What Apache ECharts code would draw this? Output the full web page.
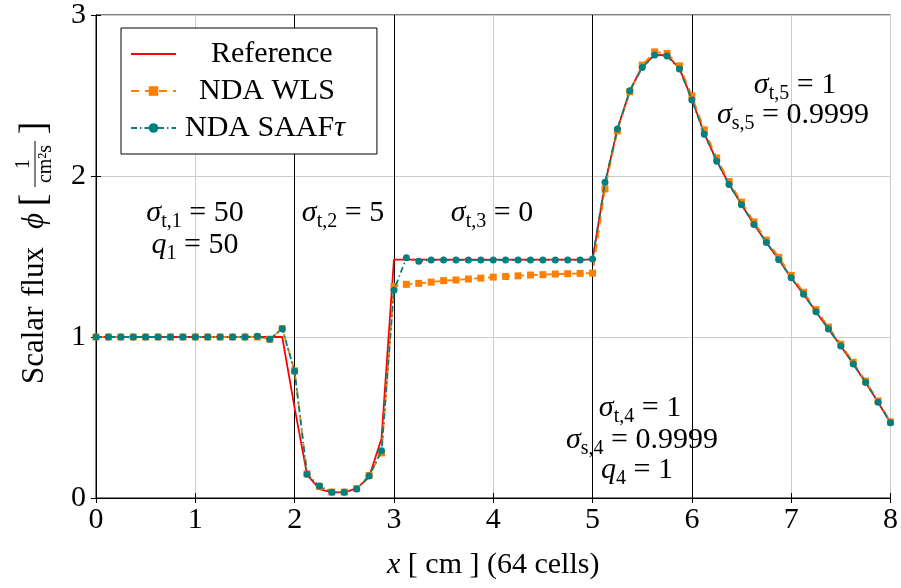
<!DOCTYPE html>
<html>
<head>
<meta charset="utf-8">
<script src="https://cdn.jsdelivr.net/npm/echarts@6/dist/echarts.min.js"></script>
<style>
  html, body { margin: 0; padding: 0; background: #ffffff; }
  #chart { width: 901px; height: 588px; }
</style>
</head>
<body>
<div id="chart"></div>
<script>
// Cell positions of the 64-cell mesh (cm)
const cellX = [
  0.000, 0.125, 0.250, 0.375, 0.500, 0.625, 0.750, 0.875,
  1.000, 1.125, 1.250, 1.375, 1.500, 1.625, 1.750, 1.875,
  2.000, 2.125, 2.250, 2.375, 2.500, 2.625, 2.750, 2.875,
  3.000, 3.125, 3.250, 3.375, 3.500, 3.625, 3.750, 3.875,
  4.000, 4.125, 4.250, 4.375, 4.500, 4.625, 4.750, 4.875,
  5.000, 5.125, 5.250, 5.375, 5.500, 5.625, 5.750, 5.875,
  6.000, 6.125, 6.250, 6.375, 6.500, 6.625, 6.750, 6.875,
  7.000, 7.125, 7.250, 7.375, 7.500, 7.625, 7.750, 7.875,
  8.000
];

// Scalar flux, reference transport solution
const referenceFlux = [
  1.000, 1.000, 1.000, 1.000, 1.000, 1.000, 1.000, 1.000,
  1.000, 1.000, 1.000, 1.000, 1.000, 1.000, 1.000, 1.000,
  0.560, 0.145, 0.055, 0.035, 0.035, 0.060, 0.130, 0.370,
  1.480, 1.480, 1.480, 1.480, 1.480, 1.480, 1.480, 1.480,
  1.480, 1.480, 1.480, 1.480, 1.480, 1.480, 1.480, 1.480,
  1.480, 1.950, 2.290, 2.530, 2.680, 2.752, 2.750, 2.668,
  2.478, 2.265, 2.095, 1.950, 1.823, 1.700, 1.588, 1.481,
  1.368, 1.265, 1.157, 1.050, 0.944, 0.833, 0.717, 0.595,
  0.467
];

// Scalar flux, NDA with weighted least squares
const wlsFlux = [
  1.000, 1.000, 1.000, 1.000, 1.000, 1.000, 1.000, 1.000,
  1.000, 1.000, 1.000, 1.000, 1.000, 1.000, 0.986, 1.052,
  0.790, 0.150, 0.072, 0.037, 0.037, 0.058, 0.140, 0.280,
  1.314, 1.327, 1.333, 1.341, 1.350, 1.354, 1.360, 1.366,
  1.372, 1.376, 1.380, 1.385, 1.387, 1.391, 1.393, 1.395,
  1.397, 1.920, 2.280, 2.523, 2.689, 2.771, 2.761, 2.684,
  2.498, 2.287, 2.112, 1.965, 1.838, 1.715, 1.602, 1.495,
  1.382, 1.278, 1.170, 1.062, 0.955, 0.843, 0.726, 0.603,
  0.473
];

// Scalar flux, NDA with SAAF tau stabilisation
const saafFlux = [
  1.000, 1.000, 1.000, 1.000, 1.000, 1.000, 1.000, 1.000,
  1.000, 1.000, 1.000, 1.000, 1.000, 1.004, 0.986, 1.052,
  0.787, 0.147, 0.074, 0.035, 0.035, 0.056, 0.136, 0.293,
  1.290, 1.492, 1.471, 1.478, 1.478, 1.478, 1.478, 1.478,
  1.478, 1.478, 1.478, 1.478, 1.478, 1.478, 1.478, 1.478,
  1.485, 1.961, 2.292, 2.529, 2.674, 2.751, 2.746, 2.664,
  2.472, 2.260, 2.092, 1.947, 1.821, 1.699, 1.587, 1.480,
  1.368, 1.265, 1.157, 1.050, 0.944, 0.833, 0.717, 0.595,
  0.467
];

// Material region interfaces (cm)
const regionEdges = [2, 3, 5, 6];

const FONT = '"Liberation Serif", "Times New Roman", serif';

function pairs(xs, ys) {
  return xs.map((x, i) => [x, ys[i]]);
}

// Rich-text styles for the region annotations (italic symbol, upright subscript)
const mathRich = {
  m: { fontFamily: FONT, fontSize: 30, fontStyle: 'italic', lineHeight: 38, fill: '#000' },
  s: { fontFamily: FONT, fontSize: 20, lineHeight: 20, verticalAlign: 'bottom', fill: '#000' },
  n: { fontFamily: FONT, fontSize: 30, lineHeight: 38, fill: '#000' }
};

function mathText(text, x, y) {
  return {
    type: 'text',
    silent: true,
    z: 50,
    style: {
      text: text,
      x: x,
      y: y,
      align: 'center',
      verticalAlign: 'middle',
      rich: mathRich,
      fill: '#000'
    }
  };
}

const annotations = [
  mathText('{m|σ}{s|t,1}{n| = 50}', 195, 213),
  mathText('{m|q}{s|1}{n| = 50}', 195, 245),
  mathText('{m|σ}{s|t,2}{n| = 5}', 343, 213),
  mathText('{m|σ}{s|t,3}{n| = 0}', 492, 213),
  mathText('{m|σ}{s|t,4}{n| = 1}', 640, 408),
  mathText('{m|σ}{s|s,4}{n| = 0.9999}', 642, 440),
  mathText('{m|q}{s|4}{n| = 1}', 637, 470),
  mathText('{m|σ}{s|t,5}{n| = 1}', 795, 85),
  mathText('{m|σ}{s|s,5}{n| = 0.9999}', 793, 115)
];

// Rotated y-axis title: Scalar flux ϕ [1 / cm²s]
const yTitle = {
  type: 'group',
  x: 35,
  y: 384,
  rotation: Math.PI / 2,
  silent: true,
  children: [
    { type: 'text', style: { text: 'Scalar', x: 0, y: 0, font: '31px ' + FONT, align: 'left', verticalAlign: 'middle', fill: '#000' } },
    { type: 'text', style: { text: 'flux', x: 87, y: 0, font: '31px ' + FONT, align: 'left', verticalAlign: 'middle', fill: '#000' } },
    { type: 'text', style: { text: 'ϕ', x: 163, y: 0, font: 'italic 31px ' + FONT, align: 'center', verticalAlign: 'middle', fill: '#000' } },
    { type: 'text', style: { text: '[', x: 184, y: 0, font: '38px ' + FONT, align: 'center', verticalAlign: 'middle', fill: '#000' } },
    { type: 'text', style: { text: '1', x: 220, y: -11, font: '20px ' + FONT, align: 'center', verticalAlign: 'middle', fill: '#000' } },
    { type: 'line', shape: { x1: 197, y1: 0, x2: 243, y2: 0 }, style: { stroke: '#000', lineWidth: 1 } },
    { type: 'text', style: { text: 'cm²s', x: 220, y: 11, font: '20px ' + FONT, align: 'center', verticalAlign: 'middle', fill: '#000' } },
    { type: 'text', style: { text: ']', x: 256, y: 0, font: '38px ' + FONT, align: 'center', verticalAlign: 'middle', fill: '#000' } }
  ]
};

const chart = echarts.init(document.getElementById('chart'), null, { renderer: 'canvas' });

const axisLabelStyle = { fontFamily: FONT, fontSize: 30, color: '#000' };

chart.setOption({
  animation: false,
  backgroundColor: '#ffffff',
  grid: {
    left: 96, right: 10, top: 14, bottom: 90,
    show: true, borderColor: '#000', borderWidth: 1, backgroundColor: 'transparent'
  },
  legend: {
    orient: 'vertical',
    left: 121,
    top: 28,
    padding: [11, 32, 11, 9],
    itemWidth: 45,
    itemHeight: 12,
    itemGap: 7,
    borderColor: '#000',
    borderWidth: 1,
    backgroundColor: '#ffffff',
    selectedMode: false,
    textStyle: { fontFamily: FONT, fontSize: 30, color: '#000', lineHeight: 30 },
    formatter: function (name) {
      if (name === 'NDA SAAFτ') return '{t|NDA SAAF}{i|τ}';
      return '{t|' + name + '}';
    },
    data: [
      {
        name: 'Reference',
        itemStyle: { color: 'rgba(0,0,0,0)', borderWidth: 0, opacity: 0 },
        lineStyle: { color: '#ff0000', width: 2, opacity: 1 },
        textStyle: { padding: [0, 0, 0, 30], rich: { t: { fontFamily: FONT, fontSize: 30 } } }
      },
      {
        name: 'NDA WLS',
        lineStyle: { width: 2 },
        textStyle: { padding: [0, 0, 0, 18], rich: { t: { fontFamily: FONT, fontSize: 30 } } }
      },
      {
        name: 'NDA SAAFτ',
        lineStyle: { width: 2 },
        textStyle: { padding: [0, 0, 0, 4], rich: { t: { fontFamily: FONT, fontSize: 30 }, i: { fontFamily: FONT, fontSize: 30, fontStyle: 'italic' } } }
      }
    ]
  },
  xAxis: [{
    type: 'value',
    min: 0, max: 8, interval: 1,
    name: '{i|x} [ cm ] (64 cells)',
    nameLocation: 'middle',
    nameGap: 52,
    nameTextStyle: {
      fontFamily: FONT, fontSize: 30, color: '#000',
      rich: { i: { fontFamily: FONT, fontSize: 30, fontStyle: 'italic' } }
    },
    axisLine: { show: true, onZero: false, lineStyle: { color: '#000', width: 1 } },
    axisTick: { show: true, inside: true, length: 5, lineStyle: { color: '#000' } },
    axisLabel: Object.assign({ margin: 7 }, axisLabelStyle),
    splitLine: { show: true, lineStyle: { color: '#cccccc', width: 1 } }
  }, {
    type: 'value', position: 'top',
    min: 0, max: 8, interval: 1,
    axisLine: { show: true, lineStyle: { color: '#000' } },
    axisTick: { show: true, inside: true, length: 5, lineStyle: { color: '#000' } },
    axisLabel: { show: false },
    splitLine: { show: false }
  }],
  yAxis: [{
    type: 'value',
    min: 0, max: 3, interval: 1,
    axisLine: { show: true, onZero: false, lineStyle: { color: '#000', width: 1 } },
    axisTick: { show: true, inside: true, length: 5, lineStyle: { color: '#000' } },
    axisLabel: Object.assign({ margin: 10 }, axisLabelStyle),
    splitLine: { show: true, lineStyle: { color: '#cccccc', width: 1 } }
  }, {
    type: 'value', position: 'right',
    min: 0, max: 3, interval: 1,
    axisLine: { show: true, lineStyle: { color: '#000' } },
    axisTick: { show: true, inside: true, length: 5, lineStyle: { color: '#000' } },
    axisLabel: { show: false },
    splitLine: { show: false }
  }],
  series: [
    {
      name: 'Reference',
      type: 'line',
      data: pairs(cellX, referenceFlux),
      symbol: 'none',
      color: '#ff0000',
      lineStyle: { color: '#ff0000', width: 1.8, type: 'solid' },
      emphasis: { disabled: true },
      z: 3,
      markLine: {
        silent: true,
        z: 1,
        symbol: 'none',
        label: { show: false },
        lineStyle: { color: '#000000', width: 1, type: 'solid' },
        data: regionEdges.map(v => ({ xAxis: v }))
      }
    },
    {
      name: 'NDA WLS',
      type: 'line',
      data: pairs(cellX, wlsFlux),
      symbol: 'rect',
      symbolSize: 7,
      showAllSymbol: true,
      color: '#ff8000',
      itemStyle: { color: '#ff8000' },
      lineStyle: { color: '#ff8000', width: 1.8, type: [8, 6] },
      emphasis: { disabled: true },
      z: 4
    },
    {
      name: 'NDA SAAFτ',
      type: 'line',
      data: pairs(cellX, saafFlux),
      symbol: 'circle',
      symbolSize: 7,
      showAllSymbol: true,
      color: '#008080',
      itemStyle: { color: '#008080' },
      lineStyle: { color: '#008080', width: 1.8, type: [6, 3, 1.5, 3] },
      emphasis: { disabled: true },
      z: 5
    }
  ],
  graphic: annotations.concat([yTitle])
});
</script>
</body>
</html>
